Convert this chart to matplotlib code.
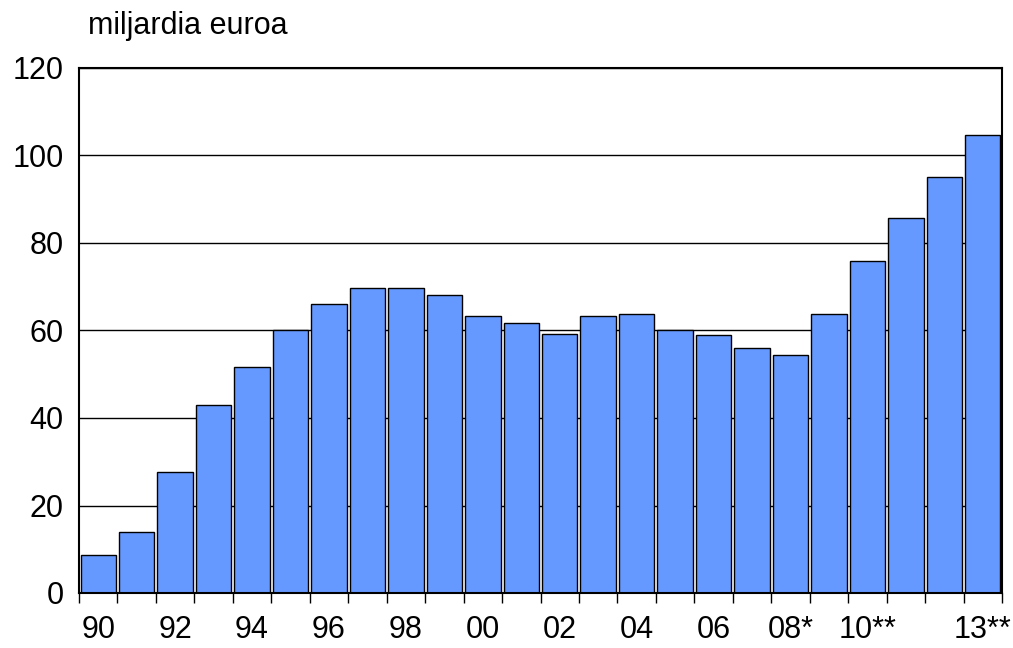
import matplotlib.pyplot as plt
import numpy as np

plt.rcParams['font.family'] = ['Liberation Sans', 'DejaVu Sans']

years = ["90", "91", "92", "93", "94", "95", "96", "97", "98", "99", "00", "01",
         "02", "03", "04", "05", "06", "07", "08*", "09", "10**", "11", "12", "13**"]
values = [8.8, 14.0, 27.7, 43.0, 51.7, 60.1, 66.1, 69.7, 69.8, 68.0, 63.3, 61.8,
          59.2, 63.3, 63.8, 60.0, 58.9, 56.1, 54.3, 63.8, 75.9, 85.7, 95.1, 104.6]
shown_labels = ["90", "92", "94", "96", "98", "00", "02", "04", "06", "08*", "10**", "13**"]

fig = plt.figure(figsize=(10.13, 6.48), dpi=100)
ax = fig.add_axes([79 / 1013, 1 - 593 / 648, (1002 - 79) / 1013, (593 - 68) / 648])

x = np.arange(len(values))
ax.bar(x, values, width=0.92, color="#6699ff", edgecolor="black", linewidth=1.0, zorder=3)

ax.set_xlim(-0.5, len(values) - 0.5)
ax.set_ylim(0, 120)
ax.set_yticks(range(0, 121, 20))
ax.yaxis.grid(True, color="black", linewidth=1.0, zorder=0)
ax.tick_params(axis="y", length=0, pad=11, labelsize=22)

label_pos = [i for i, y in enumerate(years) if y in shown_labels]
ax.set_xticks(label_pos)
ax.set_xticklabels([years[i] for i in label_pos])
ax.set_xticks(np.arange(-0.5, len(values)), minor=True)
ax.tick_params(axis="x", which="major", length=0, pad=16, labelsize=22)
ax.tick_params(axis="x", which="minor", length=7, width=1.0, color="black")

for s in ax.spines.values():
    s.set_linewidth(1.5)
    s.set_color("black")
    s.set_zorder(4)

fig.text(88 / 1013, 1 - 26 / 648, "miljardia euroa", fontsize=22, va="center", ha="left")

fig.savefig("out.png", dpi=100)
